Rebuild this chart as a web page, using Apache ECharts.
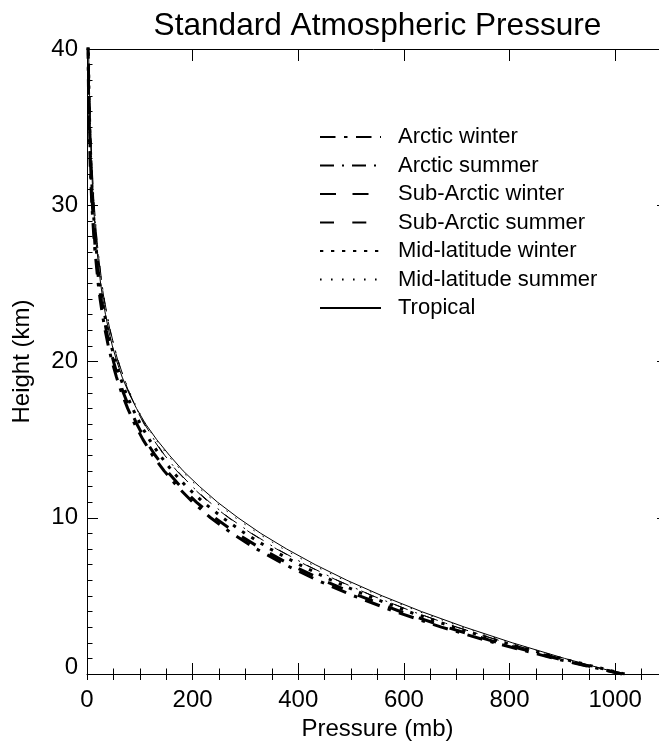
<!DOCTYPE html>
<html><head><meta charset="utf-8">
<script src="https://cdn.jsdelivr.net/npm/echarts@6/dist/echarts.min.js"></script>
<style>html,body{margin:0;padding:0;background:#fff}#c{width:659px;height:742px}</style>
</head><body><div id="c"></div>
<script>
// Heights (km)
const heights = [0,1,2,3,4,5,6,7,8,9,10,11,12,13,14,15,16,17,18,19,20,21,22,23,24,25,27.5,30,32.5,35,37.5,40,42.5];
// Pressures (mb) per profile
const arcticWinter    = [1013,884,771,671,583,505,436,375,321,274,234,200,171,146,124,106,90.2,77.0,65.5,55.8,47.4,40.3,34.3,29.2,24.8,21.1,13.9,9.2,6.1,4.1,2.8,1.9,1.3];
const arcticSummer    = [1013,897,794,700,616,541,474,414,360,312,269,232,199,171,147,127,109,93.5,80.4,69.2,59.5,51.2,44.1,38.0,32.7,28.2,19.6,13.7,9.6,6.8,4.8,3.5,2.5];
const subArcticWinter = [1013,888,778,680,593,516,447,385,331,283,242,207,177,151,129,110,94.3,80.6,68.8,58.8,50.1,42.8,36.5,31.1,26.5,22.6,15.0,10.2,6.9,4.7,3.3,2.2,1.6];
const subArcticSummer = [1010,896,793,700,616,541,473,413,359,311,268,230,198,170,146,126,108,92.8,79.8,68.6,58.9,50.7,43.6,37.5,32.3,27.8,19.3,13.4,9.4,6.6,4.7,3.4,2.5];
const midLatWinter    = [1018,897,790,694,608,531,463,402,347,299,257,220,188,161,138,118,101,86.1,73.5,62.8,53.7,45.8,39.1,33.4,28.6,24.3,16.5,11.1,7.6,5.2,3.6,2.5,1.8];
const midLatSummer    = [1013,902,802,710,628,554,487,426,372,324,281,243,209,179,153,130,111,95.0,81.2,69.5,59.5,51.0,43.7,37.6,32.2,27.7,19.1,13.2,9.3,6.5,4.6,3.3,2.4];
const tropical        = [1013,904,805,715,633,559,492,432,378,329,286,247,213,182,156,132,111,93.7,78.9,66.6,56.5,48.0,40.9,35.0,30.0,25.7,17.6,12.2,8.5,5.9,4.2,3.0,2.2];

const seriesNames = ['Arctic winter','Arctic summer','Sub-Arctic winter','Sub-Arctic summer','Mid-latitude winter','Mid-latitude summer','Tropical'];
const seriesValues = [arcticWinter, arcticSummer, subArcticWinter, subArcticSummer, midLatWinter, midLatSummer, tropical];

const titleText = 'Standard Atmospheric Pressure';
const xName = 'Pressure (mb)';
const yName = 'Height (km)';

// styles
const FONT = '"Liberation Sans", Arial, Helvetica, sans-serif';
const lineStyles = [
  {width: 3, type: [15.5, 8.5, 3.5, 8.5]},
  {width: 1, type: [14, 8, 2, 8]},
  {width: 3, type: [16, 16.5]},
  {width: 1, type: [14, 18.3]},
  {width: 3, type: [3.3, 7.7]},
  {width: 1, type: [1.6, 9.4]},
  {width: 1, type: 'solid'}
];

function pairs(p) { return p.map((v, i) => [v, heights[i]]); }

const black = '#000';
const chart = echarts.init(document.getElementById('c'), null, {renderer: 'canvas'});

const axisText = {fontFamily: FONT, fontSize: 24, color: black};

const option = {
  animation: false,
  backgroundColor: '#fff',
  title: {
    text: titleText, left: 377.5, textAlign: 'center', top: 10, padding: 0,
    textStyle: {fontFamily: FONT, fontSize: 31.6, fontWeight: 'normal', color: black}
  },
  legend: {
    orient: 'vertical', left: 319, top: 126, padding: 0, itemWidth: 61, itemHeight: 14, itemGap: 6.5,
    selectedMode: false, data: seriesNames,
    itemStyle: {opacity: 0, color: 'rgba(0,0,0,0)', borderWidth: 0},
    textStyle: {fontFamily: FONT, fontSize: 22, color: black, lineHeight: 22, padding: [0, 0, 0, 12]}
  },
  grid: {left: 87, top: 49, width: 581, height: 625, outerBoundsMode: 'none', containLabel: false},
  xAxis: [
    {
      type: 'value', min: 0, max: 1100, interval: 200, position: 'bottom',
      axisLine: {show: true, onZero: false, lineStyle: {color: black, width: 1}},
      axisTick: {show: true, inside: true, length: 11, lineStyle: {color: black, width: 1}},
      axisLabel: {margin: 14, ...axisText, showMaxLabel: false,
        formatter: v => (v % 200 === 0 && v <= 1000) ? String(v) : ''},
      splitLine: {show: false},
      name: xName, nameLocation: 'middle', nameGap: 41, nameTextStyle: axisText
    },
    {
      type: 'value', min: 0, max: 1100, interval: 50, position: 'bottom',
      axisLine: {show: false}, axisLabel: {show: false}, splitLine: {show: false},
      axisTick: {show: true, inside: true, length: 5.5, lineStyle: {color: black, width: 1}}
    },
    {
      type: 'value', min: 0, max: 1100, interval: 200, position: 'top',
      axisLine: {show: true, onZero: false, lineStyle: {color: black, width: 1}},
      axisTick: {show: true, inside: true, length: 12, lineStyle: {color: black, width: 1}},
      axisLabel: {show: false}, splitLine: {show: false}
    },
    {
      type: 'value', min: 0, max: 1100, interval: 50, position: 'top',
      axisLine: {show: false}, axisLabel: {show: false}, splitLine: {show: false},
      axisTick: {show: true, inside: true, length: 6, lineStyle: {color: black, width: 1}}
    }
  ],
  yAxis: [
    {
      type: 'value', min: 0, max: 40, interval: 10, position: 'left',
      axisLine: {show: true, onZero: false, lineStyle: {color: black, width: 1}},
      axisTick: {show: true, inside: true, length: 11, lineStyle: {color: black, width: 1}},
      minorTick: {show: true, splitNumber: 10, length: 5.5, lineStyle: {color: black, width: 1}},
      axisLabel: {margin: 9, ...axisText,
        formatter: v => v === 0 ? '{lo|0}' : String(v),
        rich: {lo: {fontFamily: FONT, fontSize: 24, color: black, padding: [0, 0, 14, 0]}}},
      splitLine: {show: false}, minorSplitLine: {show: false},
      name: yName, nameLocation: 'middle', nameGap: 53, nameTextStyle: axisText
    },
    {
      type: 'value', min: 0, max: 40, interval: 10, position: 'right',
      axisLine: {show: true, onZero: false, lineStyle: {color: black, width: 1}},
      axisTick: {show: true, inside: true, length: 11, lineStyle: {color: black, width: 1}},
      minorTick: {show: true, splitNumber: 10, length: 5.5, lineStyle: {color: black, width: 1}},
      axisLabel: {show: false}, splitLine: {show: false}
    }
  ],
  series: seriesNames.map((n, i) => ({
    name: n, type: 'line', xAxisIndex: 0, yAxisIndex: 0,
    data: pairs(seriesValues[i]),
    symbol: 'none', showSymbol: false, smooth: false, clip: true, silent: true,
    lineStyle: {color: black, width: lineStyles[i].width, type: lineStyles[i].type, cap: 'butt'},
    itemStyle: {color: black},
    emphasis: {disabled: true}
  }))
};
chart.setOption(option);
</script>
</body></html>
